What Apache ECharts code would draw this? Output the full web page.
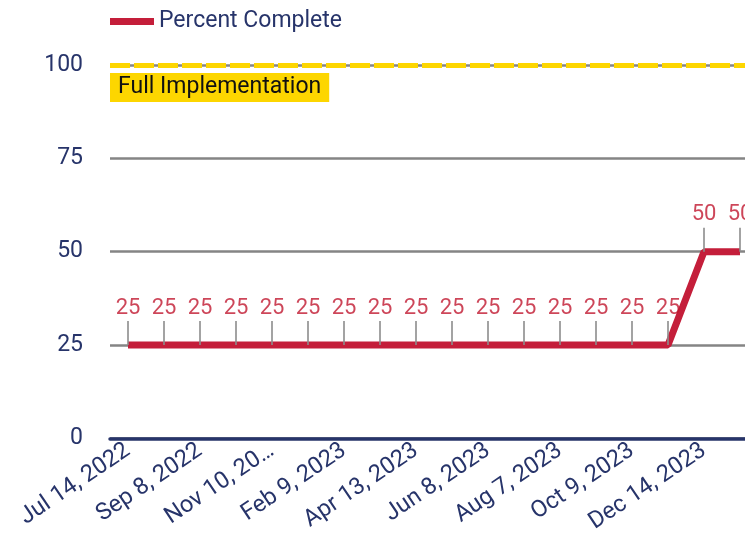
<!DOCTYPE html>
<html>
<head>
<meta charset="utf-8">
<script src="https://cdn.jsdelivr.net/npm/echarts@6/dist/echarts.min.js"></script>
<style>
  html, body { margin: 0; padding: 0; background: #fff; overflow: hidden; }
  /* chart runs a little past the right edge, like the original */
  #chart { width: 760px; height: 536px; }
</style>
</head>
<body>
<div id="chart"></div>
<script>
// x categories (every other one is labelled)
const dates = [
  'Jul 14, 2022', 'Aug 11, 2022', 'Sep 8, 2022', 'Oct 13, 2022', 'Nov 10, 20…', 'Dec 15, 2022',
  'Feb 9, 2023', 'Mar 9, 2023', 'Apr 13, 2023', 'May 11, 2023', 'Jun 8, 2023', 'Jul 13, 2023',
  'Aug 7, 2023', 'Sep 14, 2023', 'Oct 9, 2023', 'Nov 9, 2023', 'Dec 14, 2023', 'Jan 11, 2024'
]
// percent complete
const percent = [25, 25, 25, 25, 25, 25, 25, 25, 25, 25, 25, 25, 25, 25, 25, 25, 50, 50]
const target = 100

const navy = '#27346a'
const red = '#c41e3a'

const option = {
  textStyle: { fontFamily: 'Roboto' },
  animation: false,
  legend: {
    data: ['Percent Complete'],
    left: 110,
    top: 10,
    padding: 0,
    icon: 'rect',
    itemWidth: 44,
    itemHeight: 7,
    itemGap: 10,
    textStyle: { color: navy, fontSize: 23, fontFamily: 'Roboto' }
  },
  grid: {
    left: 110,
    right: 2,
    top: 65,
    bottom: 94
  },
  xAxis: {
    type: 'category',
    data: dates,
    boundaryGap: true,
    axisLine: { lineStyle: { color: navy, width: 3.5 } },
    axisTick: { show: false },
    axisLabel: {
      interval: 1,
      rotate: 34,
      margin: 10,
      color: navy,
      fontSize: 23.5,
      fontFamily: 'Roboto'
    }
  },
  yAxis: {
    type: 'value',
    min: 0,
    max: 100,
    interval: 25,
    axisLine: { show: false },
    axisTick: { show: false },
    axisLabel: { color: navy, fontSize: 23, margin: 27, fontFamily: 'Roboto' },
    splitLine: { lineStyle: { color: '#858585', width: 2.5 } }
  },
  series: [
    {
      name: 'Percent Complete',
      type: 'line',
      data: percent,
      symbol: 'none',
      lineStyle: { color: red, width: 7 },
      itemStyle: { color: red },
      z: 3,
      markLine: {
        silent: true,
        symbol: 'none',
        data: [{ yAxis: target }],
        lineStyle: { color: '#fdd600', width: 5, type: [20, 4] },
        label: {
          show: true,
          position: 'insideStartBottom',
          formatter: 'Full Implementation',
          color: '#111',
          fontSize: 23,
          fontFamily: 'Roboto',
          backgroundColor: '#fdd600',
          padding: [3, 8, 3, 8],
          distance: [0, 8]
        }
      }
    },
    {
      name: 'ticks',
      type: 'scatter',
      data: percent,
      symbol: 'rect',
      symbolSize: [2, 24],
      symbolOffset: [0, -12],
      itemStyle: { color: '#8c8c8c' },
      z: 4,
      label: {
        show: true,
        position: 'top',
        distance: 2,
        color: '#c0182f',
        fontSize: 22,
        fontFamily: 'Roboto'
      }
    }
  ]
}

const chart = echarts.init(document.getElementById('chart'))
chart.setOption(option)
</script>
</body>
</html>
